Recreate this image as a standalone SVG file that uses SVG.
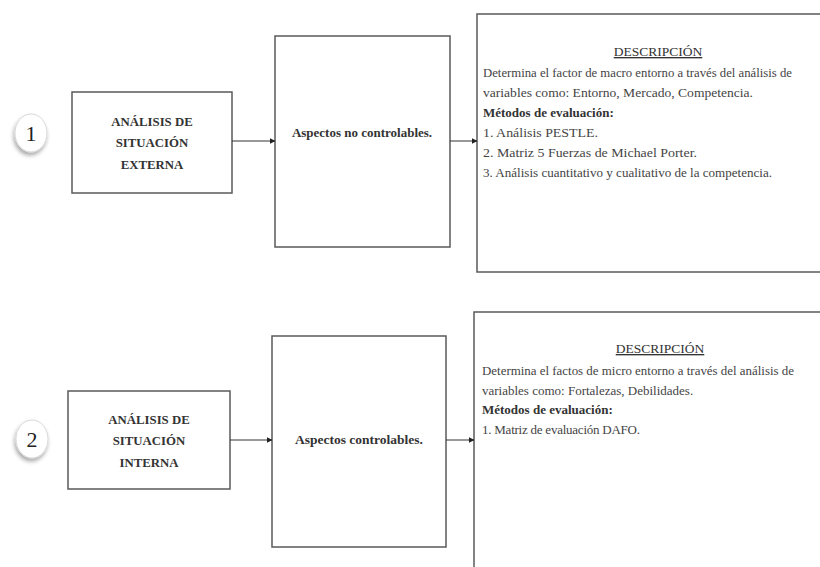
<svg xmlns="http://www.w3.org/2000/svg" width="820" height="567" viewBox="0 0 820 567">
  <style>
    text { font-family: 'Liberation Serif', 'DejaVu Serif', serif; }
    .box { fill: #ffffff; stroke: #5a5a5a; stroke-width: 1.5; }
    .circ { fill: #ffffff; stroke: #d8d8d8; stroke-width: 1; }
    .num { font-size: 22px; fill: #222; text-anchor: middle; }
    .title { font-size: 12.8px; font-weight: bold; fill: #333; text-anchor: middle; }
    .mid { font-size: 13px; font-weight: bold; fill: #333; text-anchor: middle; }
    .desc { font-size: 13px; fill: #444; }
    .head { font-size: 13.5px; fill: #333; text-anchor: middle; text-decoration: underline; }
    .bold { font-weight: bold; fill: #333; }
    .conn { stroke: #333; stroke-width: 1; fill: none; marker-end: url(#arr); }
  </style>
  <defs>
    <marker id="arr" markerWidth="6" markerHeight="6" refX="5.5" refY="3" orient="auto" markerUnits="userSpaceOnUse">
      <path d="M0,0 L6,3 L0,6 Z" fill="#222"/>
    </marker>
    <filter id="sh" x="-50%" y="-50%" width="200%" height="200%">
      <feGaussianBlur in="SourceAlpha" stdDeviation="2"/>
      <feOffset dx="-1" dy="3" result="b"/>
      <feComponentTransfer><feFuncA type="linear" slope="0.35"/></feComponentTransfer>
      <feMerge><feMergeNode/><feMergeNode in="SourceGraphic"/></feMerge>
    </filter>
  </defs>
  <rect width="820" height="567" fill="#ffffff"/>

  <g id="circle1">
    <ellipse class="circ" cx="31" cy="133" rx="16" ry="19" filter="url(#sh)"/>
    <text class="num" x="31" y="141">1</text>
  </g>
  <g id="ext">
    <rect class="box" x="72" y="92" width="160" height="101"/>
    <text class="title" x="152" y="126">ANÁLISIS DE</text>
    <text class="title" x="152" y="147">SITUACIÓN</text>
    <text class="title" x="152" y="169">EXTERNA</text>
  </g>
  <g id="noctrl">
    <rect class="box" x="275" y="36" width="175" height="211"/>
    <text class="mid" x="362" y="137">Aspectos no controlables.</text>
  </g>
  <g id="desc1">
    <rect class="box" x="477" y="14" width="360" height="258"/>
    <text class="head" x="658" y="56">DESCRIPCIÓN</text>
    <text class="desc" x="483" y="77" textLength="309" lengthAdjust="spacingAndGlyphs">Determina el factor de macro entorno a través del análisis de</text>
    <text class="desc" x="483" y="97" textLength="270" lengthAdjust="spacingAndGlyphs">variables como: Entorno, Mercado, Competencia.</text>
    <text class="desc bold" x="483" y="117">Métodos de evaluación:</text>
    <text class="desc" x="483" y="137" textLength="115" lengthAdjust="spacingAndGlyphs">1. Análisis PESTLE.</text>
    <text class="desc" x="483" y="157" textLength="214" lengthAdjust="spacingAndGlyphs">2. Matriz 5 Fuerzas de Michael Porter.</text>
    <text class="desc" x="483" y="177" textLength="289" lengthAdjust="spacingAndGlyphs">3. Análisis cuantitativo y cualitativo de la competencia.</text>
  </g>

  <g id="circle2">
    <ellipse class="circ" cx="32" cy="439" rx="16" ry="19" filter="url(#sh)"/>
    <text class="num" x="32" y="447">2</text>
  </g>
  <g id="int">
    <rect class="box" x="68" y="391" width="162" height="98"/>
    <text class="title" x="149" y="424">ANÁLISIS DE</text>
    <text class="title" x="149" y="445">SITUACIÓN</text>
    <text class="title" x="149" y="467">INTERNA</text>
  </g>
  <g id="ctrl">
    <rect class="box" x="272" y="336" width="174" height="211"/>
    <text class="mid" x="359" y="444" style="font-size:13.5px">Aspectos controlables.</text>
  </g>
  <g id="desc2">
    <rect class="box" x="474" y="312" width="360" height="270"/>
    <text class="head" x="660" y="353">DESCRIPCIÓN</text>
    <text class="desc" x="482" y="375" textLength="312" lengthAdjust="spacingAndGlyphs">Determina el factos de micro entorno a través del análisis de</text>
    <text class="desc" x="482" y="395">variables como: Fortalezas, Debilidades.</text>
    <text class="desc bold" x="482" y="414">Métodos de evaluación:</text>
    <text class="desc" x="482" y="434" textLength="158" lengthAdjust="spacing">1. Matriz de evaluación DAFO.</text>
  </g>

  <g id="connectors">
    <line class="conn" x1="232" y1="141" x2="275" y2="141"/>
    <line class="conn" x1="450" y1="141" x2="477" y2="141"/>
    <line class="conn" x1="230" y1="440" x2="272" y2="440"/>
    <line class="conn" x1="446" y1="440" x2="474" y2="440"/>
  </g>
</svg>
